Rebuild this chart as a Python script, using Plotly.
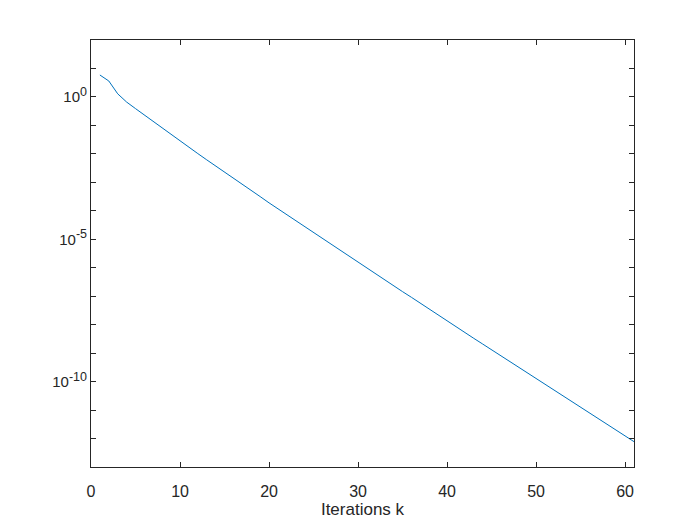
import plotly.graph_objects as go

# iteration index
iterations = list(range(1, 62))

# residual, as log10 exponents (k = 1 .. 61)
log10_residual = [
    0.77, 0.56, 0.11, -0.18, -0.41, -0.64, -0.87, -1.10, -1.33, -1.56,
    -1.78, -1.99, -2.21, -2.42, -2.64, -2.85, -3.07, -3.29, -3.50, -3.72,
    -3.93, -4.14, -4.35, -4.55, -4.76, -4.97, -5.18, -5.39, -5.60, -5.80,
    -6.01, -6.22, -6.43, -6.63, -6.84, -7.04, -7.25, -7.45, -7.66, -7.87,
    -8.07, -8.27, -8.48, -8.68, -8.88, -9.09, -9.29, -9.49, -9.69, -9.89,
    -10.09, -10.29, -10.49, -10.69, -10.90, -11.10, -11.30, -11.50, -11.70, -11.91,
    -12.11,
]
residual = [10 ** v for v in log10_residual]

x_ticks = [0, 10, 20, 30, 40, 50, 60]
y_decades = list(range(-13, 3))
y_labelled = {0: "0", -5: "-5", -10: "-10"}


def decade_label(d):
    # MATLAB draws fairly large exponents, bigger than plotly's default <sup>
    if d not in y_labelled:
        return ""
    return "10<sup><span style='font-size:12.5px'>" + y_labelled[d] + "</span></sup>"


axis_color = "#262626"
font = dict(family="Liberation Sans, Arial, sans-serif", size=15, color=axis_color)

fig = go.Figure()
fig.add_trace(go.Scatter(
    x=iterations, y=residual, mode="lines",
    line=dict(color="#0072BD", width=1),
    showlegend=False,
))

# the page body adds an 8px offset, so margins are trimmed to land the box at 91..634 x 40..467
fig.update_layout(
    width=700, height=525,
    margin=dict(l=83, r=74, t=32, b=66, autoexpand=False),
    paper_bgcolor="white", plot_bgcolor="white",
    font=font,
)

fig.update_xaxes(
    range=[0, 61],
    tickvals=x_ticks,
    ticks="inside", ticklen=5, tickwidth=1, tickcolor=axis_color,
    showline=True, linecolor=axis_color, linewidth=1, mirror="ticks",
    showgrid=False, zeroline=False, automargin=False,
    ticklabelstandoff=10,
    tickfont=dict(size=16),
    title=dict(text="Iterations k", font=dict(size=17, color=axis_color), standoff=0),
)

fig.update_yaxes(
    type="log", range=[-13, 2],
    tickvals=[10 ** d for d in y_decades],
    ticktext=[decade_label(d) for d in y_decades],
    ticks="inside", ticklen=5, tickwidth=1, tickcolor=axis_color,
    showline=True, linecolor=axis_color, linewidth=1, mirror="ticks",
    showgrid=False, zeroline=False, automargin=False,
    ticklabelstandoff=0,
    tickfont=dict(size=15),
)

fig.write_html("out.html")
